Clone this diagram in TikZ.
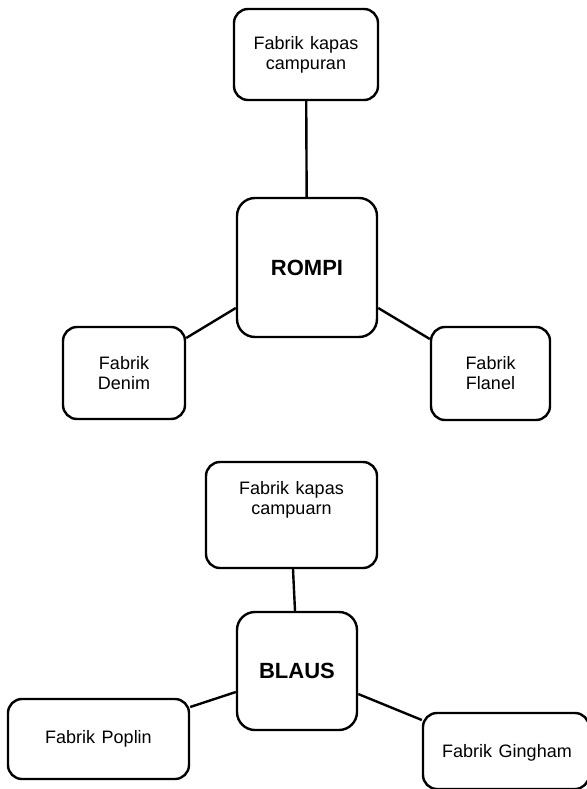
\documentclass[tikz,border=0pt]{standalone}
\usepackage{fontspec}
\setmainfont{Liberation Sans}
\newcommand\myboxfont{\fontsize{18bp}{20bp}\selectfont\spaceskip=6.5bp\relax}
\begin{document}
\begin{tikzpicture}[x=1bp,y=-1bp,
  box/.style={draw=black, line width=2.4bp, rounded corners=14bp, fill=white,
    align=center, inner sep=0pt, font=\myboxfont},
  hub/.style={box, rounded corners=18bp, font=\fontsize{22bp}{26bp}\selectfont\bfseries},
  txt/.style={align=center, inner sep=0pt, font=\myboxfont},
  link/.style={draw=black, line width=2.4bp}]
\useasboundingbox (0,0) rectangle (587,789);
% top diagram
\node[box, minimum width=144bp, minimum height=91bp] (kapasa) at (306,54.5) {Fabrik kapas\\campuran};
\node[hub, minimum width=140bp, minimum height=139bp] (rompi) at (307,267.5) {ROMPI};
\node[box, minimum width=122bp, minimum height=92bp] (denim) at (124,373) {Fabrik\\Denim};
\node[box, minimum width=119bp, minimum height=93bp] (flanel) at (490.5,373.5) {Fabrik\\Flanel};
\draw[link] (kapasa) -- (rompi);
\draw[link] ([yshift=-40.5bp]rompi.west) -- ([yshift=35bp]denim.east);
\draw[link] ([yshift=-40.5bp]rompi.east) -- ([yshift=34.5bp]flanel.west);
% bottom diagram
\node[box, minimum width=171bp, minimum height=106bp] (kapasb) at (291.5,515) {};
\node[txt] (kapasbtxt) at (291.5,500) {Fabrik kapas\\campuarn};
\node[hub, minimum width=120bp, minimum height=118bp] (blaus) at (297,671) {BLAUS};
\node[box, minimum width=181bp, minimum height=80bp] (poplin) at (98.5,739) {Fabrik Poplin};
\node[box, minimum width=166bp, minimum height=76bp] (gingham) at (506,751) {};
\node[txt] (ginghamtxt) at (507,753) {Fabrik Gingham};
\draw[link] ([xshift=1.5bp]kapasb.south) -- ([xshift=-2bp]blaus.north);
\draw[link] ([yshift=-21bp]blaus.west) -- ([yshift=32bp]poplin.east);
\draw[link] ([yshift=-23bp]blaus.east) -- ([yshift=31bp]gingham.west);
\end{tikzpicture}
\end{document}
